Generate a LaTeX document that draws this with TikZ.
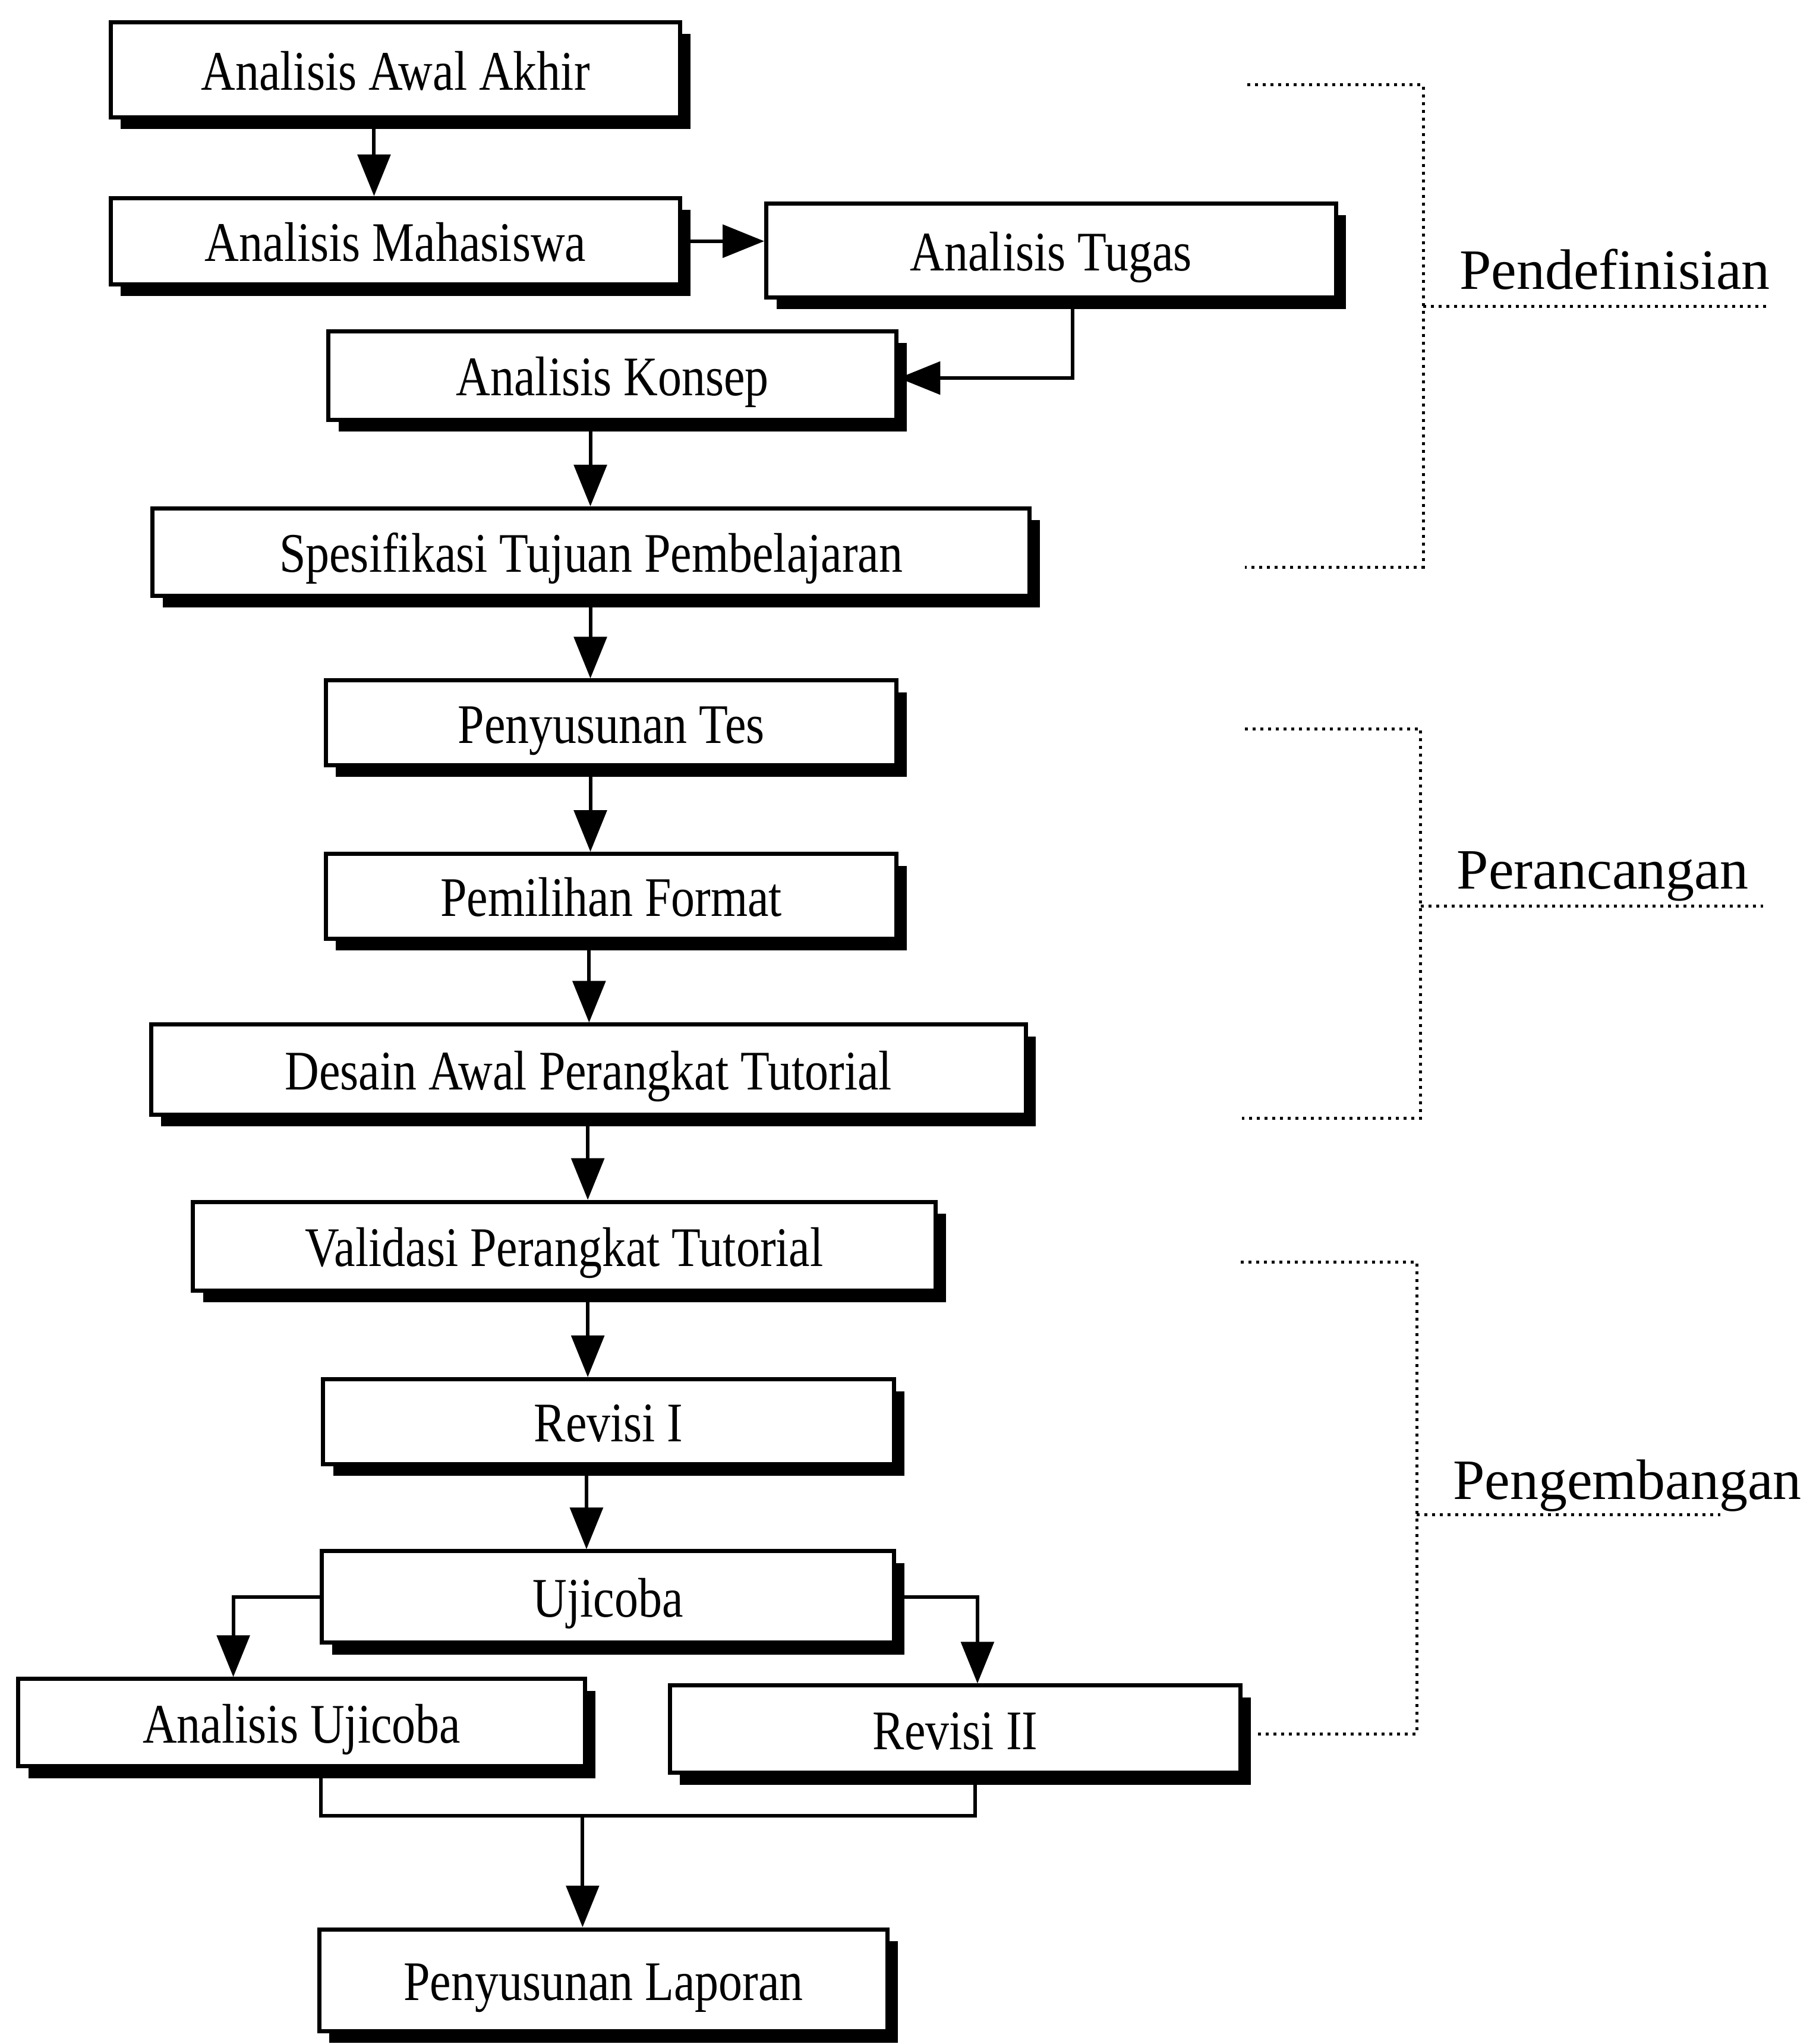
\documentclass[tikz,border=0pt]{standalone}
\usepackage{fontspec}
\setmainfont{Liberation Serif}
\newfontfamily\boxfont{Liberation Serif}[FakeStretch=0.85]
\usetikzlibrary{arrows.meta,shadows}
\begin{document}
\begin{tikzpicture}[x=0.2193pt,y=-0.2193pt,
  box/.style={draw, line width=0.7pt, fill=white, inner sep=0pt,
    text height=6.8pt, text depth=0pt,
    font=\boxfont\fontsize{9.4}{11}\selectfont,
    drop shadow={shadow xshift=1.7pt, shadow yshift=-2pt, fill=black, opacity=1}},
  lab/.style={inner sep=0pt, font=\fontsize{9.6}{11}\selectfont, anchor=base west},
  arr/.style={line width=0.6pt, -{Triangle[length=7pt,width=5.5pt]}},
  con/.style={line width=0.6pt},
  brk/.style={line width=0.5pt, dash pattern=on 0.5pt off 0.8pt}]
\useasboundingbox (0,0) rectangle (1391,1568);

% boxes
\node[box, minimum width=95.83pt, minimum height=16.01pt] (n1) at (303.5,53.5) {Analisis Awal Akhir};
\node[box, minimum width=95.83pt, minimum height=14.47pt] (n2) at (303.5,185) {Analisis Mahasiswa};
\node[box, minimum width=95.83pt, minimum height=15.79pt] (n3) at (806.5,192) {Analisis Tugas};
\node[box, minimum width=95.61pt, minimum height=14.91pt] (n4) at (470,288) {Analisis Konsep};
\node[box, minimum width=147.59pt, minimum height=14.69pt] (n5) at (453.5,423.5) {Spesifikasi Tujuan Pembelajaran};
\node[box, minimum width=96.05pt, minimum height=14.25pt] (n6) at (469,554.5) {Penyusunan Tes};
\node[box, minimum width=96.05pt, minimum height=14.25pt] (n7) at (469,687.5) {Pemilihan Format};
\node[box, minimum width=147.15pt, minimum height=15.13pt] (n8) at (451.5,820.5) {Desain Awal Perangkat Tutorial};
\node[box, minimum width=125.0pt, minimum height=14.91pt] (n9) at (433,956) {Validasi Perangkat Tutorial};
\node[box, minimum width=96.05pt, minimum height=14.25pt] (n10) at (467,1090.5) {Revisi I};
\node[box, minimum width=96.27pt, minimum height=15.35pt] (n11) at (466.5,1225) {Ujicoba};
\node[box, minimum width=95.40pt, minimum height=14.69pt] (n12) at (231.5,1321.5) {Analisis Ujicoba};
\node[box, minimum width=96.05pt, minimum height=14.69pt] (n13) at (733,1326.5) {Revisi II};
\node[box, minimum width=95.61pt, minimum height=17.11pt] (n14) at (463,1519) {Penyusunan Laporan};

% helper coordinates
\coordinate (x287) at (287,0);
\coordinate (x823) at (823,0);
\coordinate (x453) at (453,0);
\coordinate (x452) at (452,0);
\coordinate (x451) at (451,0);
\coordinate (x450) at (450,0);
\coordinate (x179) at (179,0);
\coordinate (x750) at (750,0);
\coordinate (x246) at (246,0);
\coordinate (x748) at (748,0);
\coordinate (y290) at (0,290);
\coordinate (j) at (447,1393);

% connectors
\draw[arr] (x287 |- n1.south) -- (x287 |- n2.north);
\draw[arr] (n2.east) -- (n3.west |- n2.east);
\draw[arr] (x823 |- n3.south) |- (n4.east |- y290);
\draw[arr] (x453 |- n4.south) -- (x453 |- n5.north);
\draw[arr] (x453 |- n5.south) -- (x453 |- n6.north);
\draw[arr] (x453 |- n6.south) -- (x453 |- n7.north);
\draw[arr] (x452 |- n7.south) -- (x452 |- n8.north);
\draw[arr] (x451 |- n8.south) -- (x451 |- n9.north);
\draw[arr] (x451 |- n9.south) -- (x451 |- n10.north);
\draw[arr] (x450 |- n10.south) -- (x450 |- n11.north);
\draw[arr] (n11.west) -| (x179 |- n12.north);
\draw[arr] (n11.east) -| (x750 |- n13.north);
\draw[con] (x246 |- n12.south) -- (x246 |- j) -- (x748 |- j) -- (x748 |- n13.south);
\draw[arr] (j) -- (j |- n14.north);

% phase labels
\node[lab] (L1) at (1119,222) {Pendefinisian};
\node[lab] (L2) at (1117,682) {Perancangan};
\node[lab] (L3) at (1114,1150) {Pengembangan};

% dotted brackets
\draw[brk] (957,65) -- (1092,65) -- (1092,435) -- (955,435);
\draw[brk] (1092,235) -- (1355,235);
\draw[brk] (955,559) -- (1090,559) -- (1090,858) -- (953,858);
\draw[brk] (1090,695) -- (1353,695);
\draw[brk] (952,968) -- (1087,968) -- (1087,1330) -- (965,1330);
\draw[brk] (1087,1162) -- (1320,1162);
\end{tikzpicture}
\end{document}
